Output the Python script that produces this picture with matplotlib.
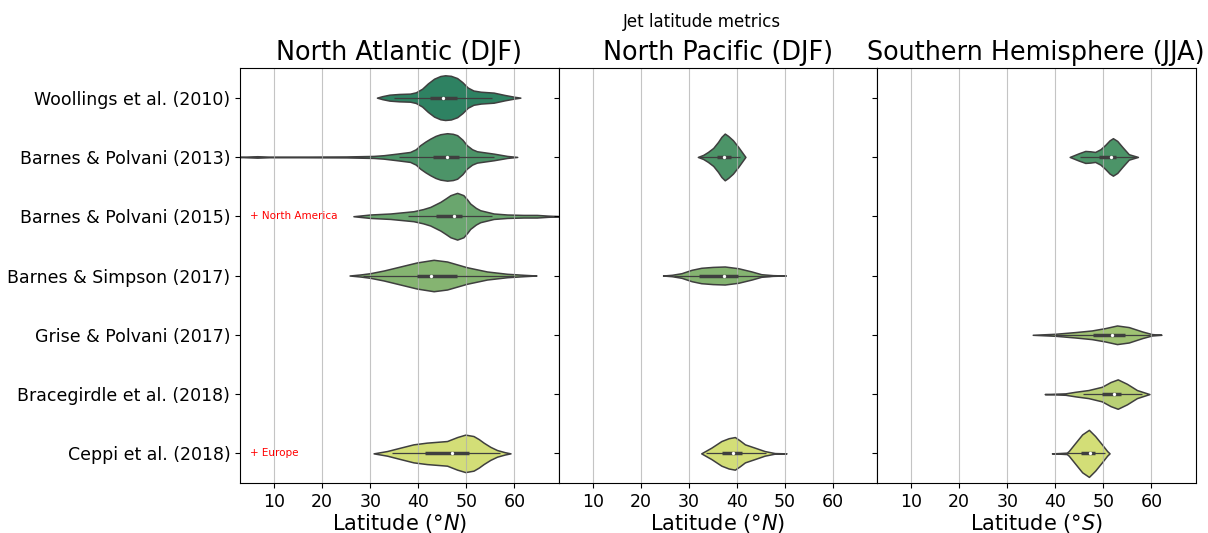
import matplotlib
matplotlib.use("Agg")
import matplotlib.pyplot as plt
import seaborn as sns

categories = ["Woollings et al. (2010)", "Barnes & Polvani (2013)", "Barnes & Polvani (2015)",
              "Barnes & Simpson (2017)", "Grise & Polvani (2017)", "Bracegirdle et al. (2018)",
              "Ceppi et al. (2018)"]
panel_titles = ["North Atlantic (DJF)", "North Pacific (DJF)", "Southern Hemisphere (JJA)"]
xlabels = ["Latitude (°$N$)", "Latitude (°$N$)", "Latitude (°$S$)"]
xticks = [10, 20, 30, 40, 50, 60]

# ---- North Atlantic ----
na_rows = [0, 1, 2, 3, 6]
na_lat = [
    [31.4, 32.5, 34, 36, 38.3, 39.5, 40.8, 42, 43.3, 44.6, 45.6, 46.8, 48.1, 49.2, 50.3, 51.5, 53, 55.7, 58, 60, 61.25],
    [2.5, 4, 6.5, 9, 15, 25, 30.7, 32.8, 35.6, 38.3, 39.5, 40.4, 41.5, 42.5, 43.6, 44.6, 46.0, 47.2, 48.1, 49.2, 50.1, 51.2, 52.2, 55.7, 58.5, 60.6],
    [26.5, 30, 34.2, 39, 41, 42.5, 44.6, 45.7, 46.7, 48.1, 49.4, 50.2, 50.8, 52, 52.9, 55.7, 58.5, 61.9, 64.7, 67, 70],
    [25.7, 28, 30, 32.8, 36.25, 39.7, 43.2, 46.0, 50.1, 54.3, 58.5, 61.9, 64.6],
    [30.7, 33.5, 36.25, 39, 41.8, 44, 46.0, 47, 48.1, 49.8, 51.5, 52.6, 53.6, 55, 56.4, 58, 59.2],
]
na_hw = [
    [0, .025, .05, .062, .068, .09, .15, .24, .32, .365, .377, .368, .33, .26, .17, .12, .1, .085, .045, .015, 0],
    [0, .005, .012, .005, .005, .008, .017, .029, .056, .084, .13, .198, .26, .309, .355, .383, .4, .39, .367, .29, .198, .13, .096, .056, .017, 0],
    [0, .029, .046, .084, .12, .157, .242, .3, .355, .394, .355, .28, .215, .14, .101, .046, .029, .022, .022, .01, 0],
    [0, .018, .039, .084, .152, .22, .265, .236, .14, .068, .029, .012, 0],
    [0, .039, .096, .152, .181, .195, .208, .24, .275, .316, .292, .24, .181, .11, .056, .02, 0],
]
na_q1 = [42.4, 43.0, 43.75, 39.7, 41.5]
na_med = [45.1, 46.0, 47.4, 42.6, 47.1]
na_q3 = [48.1, 48.5, 49.1, 48.1, 50.5]
na_wlo = [35.0, 35.9, 37.85, 28.5, 34.5]
na_whi = [55.4, 55.7, 55.35, 60.0, 57.1]

# ---- North Pacific ----
np_rows = [1, 3, 6]
np_lat = [
    [31.9, 33.0, 34.0, 35.1, 36.1, 36.8, 37.5, 38.2, 39.2, 40.3, 41.3, 41.8],
    [24.65, 26.5, 28.5, 30.6, 32.6, 35, 37.5, 40.3, 43.1, 45.1, 47.5, 50.2],
    [32.6, 34.7, 36.8, 38.3, 39.6, 40.6, 41.7, 43.75, 45.8, 47.9, 50.35],
]
np_hw = [
    [0, .034, .084, .152, .253, .338, .394, .355, .282, .169, .056, 0],
    [0, .012, .039, .096, .13, .145, .152, .123, .068, .022, .006, 0],
    [0, .096, .208, .255, .275, .22, .152, .096, .039, .005, 0],
]
np_q1 = [35.8, 32.1, 37.0]
np_med = [37.4, 37.4, 39.3]
np_q3 = [38.8, 40.3, 41.0]
np_wlo = [32.3, 27.0, 33.5]
np_whi = [40.6, 47.0, 46.0]

# ---- Southern Hemisphere ----
sh_rows = [1, 4, 5, 6]
sh_lat = [
    [43.0, 44.9, 46.25, 47.3, 48.3, 49.4, 50.4, 51.3, 52.0, 52.9, 53.9, 55.3, 57.2],
    [35.3, 40.0, 44.2, 47.6, 50.4, 52.85, 55.3, 58.1, 60.1, 62.1],
    [37.8, 42.1, 44.2, 46.9, 49.7, 51.5, 53.0, 54.9, 57.0, 59.6],
    [39.3, 41, 42.4, 42.8, 44.2, 45.6, 47.0, 48.3, 49.7, 50.8, 51.3],
]
sh_hw = [
    [0, .062, .101, .095, .084, .13, .203, .28, .316, .27, .174, .046, 0],
    [0, .017, .046, .073, .113, .157, .13, .056, .012, 0],
    [0, .012, .039, .068, .123, .203, .248, .174, .068, 0],
    [0, .006, .012, .039, .18, .32, .397, .292, .152, .039, 0],
]
sh_q1 = [49.2, 47.8, 49.7, 45.35]
sh_med = [51.5, 51.8, 52.3, 47.2]
sh_q3 = [52.6, 54.6, 53.7, 48.3]
sh_wlo = [45.1, 40.0, 45.7, 42.4]
sh_whi = [56.5, 59.8, 58.1, 50.4]

annotations = [(2, "+ North America"), (6, "+ Europe")]

palette = [sns.desaturate(c, 0.75) for c in sns.color_palette("summer", len(categories))]
gray = "#3f3f3f"

fig = plt.figure(figsize=(12.08, 5.33), dpi=100)
axes = fig.subplots(1, 3, sharey=True, sharex=True)
fig.subplots_adjust(left=0.1987, right=0.9897, bottom=0.0938, top=0.8724, wspace=0)

panels = [
    (na_rows, na_lat, na_hw, na_q1, na_med, na_q3, na_wlo, na_whi),
    (np_rows, np_lat, np_hw, np_q1, np_med, np_q3, np_wlo, np_whi),
    (sh_rows, sh_lat, sh_hw, sh_q1, sh_med, sh_q3, sh_wlo, sh_whi),
]

for ax, panel, title, xl in zip(axes, panels, panel_titles, xlabels):
    rows, lats, hws, q1s, meds, q3s, wlos, whis = panel
    for r, lat, hw, q1, md, q3, wl, wh in zip(rows, lats, hws, q1s, meds, q3s, wlos, whis):
        lo = [r - h for h in hw]
        hi = [r + h for h in hw]
        ax.fill_between(lat, lo, hi, facecolor=palette[r], edgecolor=gray, linewidth=1.1, zorder=1)
        ax.plot([wl, wh], [r, r], color=gray, lw=0.9, solid_capstyle="butt", zorder=2)
        ax.plot([q1, q3], [r, r], color=gray, lw=2.5, solid_capstyle="butt", zorder=2)
        ax.plot([md], [r], marker="o", ms=2.4, mfc="white", mec="white", mew=0, zorder=3)
    ax.set_title(title, fontsize=18.4)
    ax.set_xlabel(xl, fontsize=15, labelpad=1)
    ax.grid(axis="x", color="#b0b0b0", linewidth=0.8, alpha=0.75)
    ax.tick_params(labelsize=12.5)

axes[0].set_xlim(2.9, 69.2)
axes[0].set_xticks(xticks)
axes[0].set_yticks(range(len(categories)))
axes[0].set_yticklabels(categories)
axes[0].set_ylim(len(categories) - 0.5, -0.5)

for r, txt in annotations:
    axes[0].text(5.0, r, txt, color="red", fontsize=7.5, va="center", ha="left")

fig.suptitle("Jet latitude metrics", fontsize=12, x=0.581, y=0.975)

fig.savefig("out.png", dpi=100)
